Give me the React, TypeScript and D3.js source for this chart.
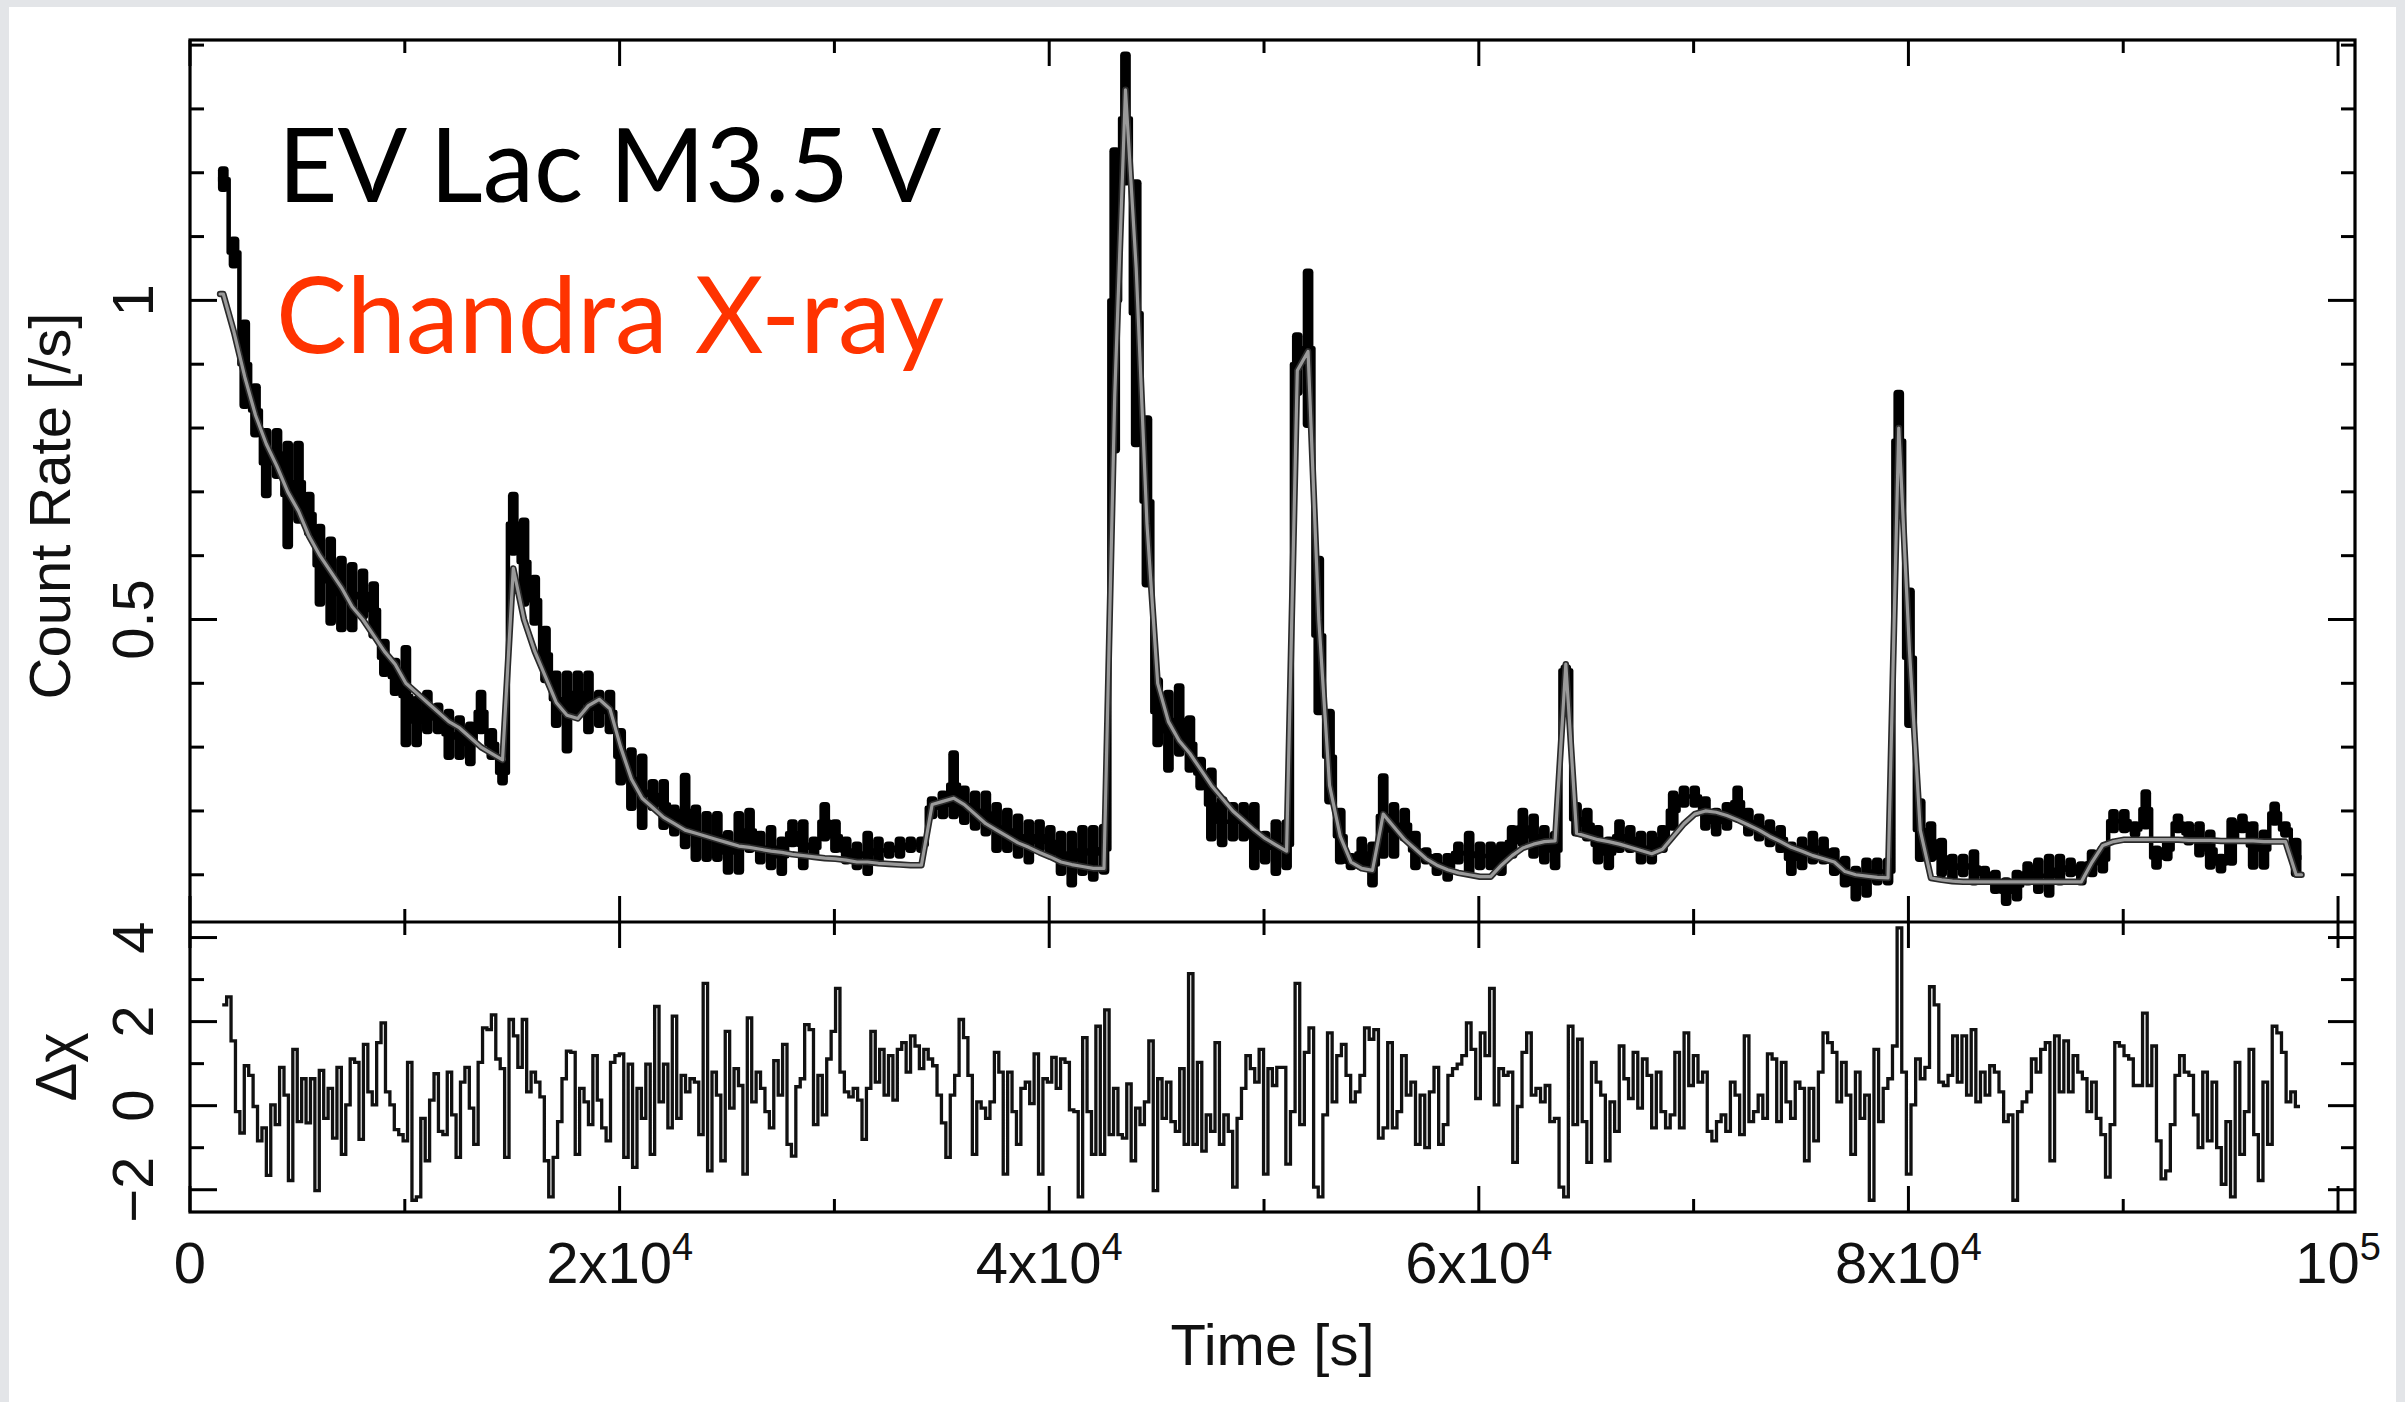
import React from "react";
import * as d3 from "d3";

const W = 2405;
const H = 1402;

// ---------- data ----------
const TIME_START = 1300; // s, start of first light-curve bin
const BIN = 500; // s

const DATA_LOW = [
  1.17, 1.05, 0.83, 0.785, 0.69, 0.72, 0.61, 0.65, 0.63, 0.52,
  0.49, 0.48, 0.48, 0.5, 0.47, 0.41, 0.38, 0.3, 0.3, 0.32,
  0.32, 0.28, 0.28, 0.27, 0.32, 0.28, 0.24, 0.6, 0.52, 0.49,
  0.4, 0.33, 0.29, 0.35, 0.32, 0.33, 0.32, 0.24, 0.2, 0.17,
  0.2, 0.17, 0.16, 0.14, 0.12, 0.12, 0.12, 0.1, 0.1, 0.134,
  0.116, 0.107, 0.098, 0.143, 0.107, 0.125, 0.152, 0.134, 0.116, 0.107,
  0.098, 0.116, 0.125, 0.125, 0.134, 0.134, 0.187, 0.187, 0.187, 0.178,
  0.169, 0.16, 0.134, 0.134, 0.125, 0.116, 0.134, 0.125, 0.098, 0.08,
  0.098, 0.089, 0.1, 0.76, 1.18, 0.77, 0.55, 0.3, 0.26, 0.285,
  0.26, 0.232, 0.152, 0.143, 0.152, 0.152, 0.107, 0.116, 0.098, 0.107,
  0.85, 0.8, 0.35, 0.21, 0.116, 0.107, 0.107, 0.08, 0.125, 0.125,
  0.152, 0.107, 0.116, 0.098, 0.089, 0.116, 0.098, 0.107, 0.107, 0.098,
  0.125, 0.143, 0.125, 0.116, 0.107, 0.41, 0.16, 0.152, 0.116, 0.107,
  0.134, 0.134, 0.116, 0.116, 0.134, 0.169, 0.205, 0.205, 0.169, 0.16,
  0.169, 0.187, 0.16, 0.152, 0.143, 0.134, 0.098, 0.107, 0.116, 0.116,
  0.098, 0.08, 0.058, 0.064, 0.083, 0.083, 0.7, 0.33, 0.12, 0.12,
  0.096, 0.089, 0.096, 0.083, 0.089, 0.07, 0.051, 0.058, 0.083, 0.07,
  0.064, 0.083, 0.096, 0.083, 0.096, 0.102, 0.165, 0.165, 0.158, 0.171,
  0.108, 0.121, 0.165, 0.146, 0.127, 0.108, 0.102, 0.114, 0.165, 0.108,
  0.108, 0.177, 0.158, 0.096,
];

const DATA_HIGH = [
  1.21, 1.1, 0.97, 0.87, 0.8, 0.8, 0.78, 0.78, 0.7, 0.65,
  0.63, 0.6, 0.59, 0.58, 0.56, 0.47, 0.44, 0.46, 0.38, 0.39,
  0.37, 0.36, 0.35, 0.34, 0.39, 0.33, 0.28, 0.7, 0.66, 0.57,
  0.49, 0.42, 0.42, 0.42, 0.42, 0.39, 0.39, 0.33, 0.3, 0.29,
  0.25, 0.25, 0.21, 0.26, 0.21, 0.2, 0.2, 0.17, 0.2, 0.205,
  0.169, 0.178, 0.16, 0.187, 0.187, 0.16, 0.214, 0.187, 0.16, 0.152,
  0.169, 0.16, 0.152, 0.16, 0.16, 0.16, 0.223, 0.232, 0.295, 0.24,
  0.232, 0.232, 0.214, 0.205, 0.196, 0.187, 0.187, 0.178, 0.169, 0.169,
  0.178, 0.178, 0.18, 1.24, 1.39, 1.19, 0.82, 0.41, 0.39, 0.4,
  0.35, 0.285, 0.268, 0.223, 0.214, 0.214, 0.214, 0.169, 0.187, 0.187,
  0.95, 1.05, 0.6, 0.36, 0.205, 0.134, 0.16, 0.152, 0.259, 0.214,
  0.205, 0.169, 0.143, 0.134, 0.134, 0.152, 0.169, 0.152, 0.152, 0.152,
  0.178, 0.205, 0.196, 0.178, 0.169, 0.43, 0.214, 0.205, 0.178, 0.16,
  0.187, 0.178, 0.169, 0.169, 0.178, 0.232, 0.24, 0.24, 0.223, 0.205,
  0.214, 0.24, 0.205, 0.196, 0.187, 0.178, 0.152, 0.16, 0.169, 0.16,
  0.143, 0.13, 0.114, 0.127, 0.127, 0.127, 0.86, 0.55, 0.22, 0.184,
  0.158, 0.133, 0.133, 0.14, 0.114, 0.108, 0.096, 0.108, 0.121, 0.127,
  0.133, 0.133, 0.127, 0.121, 0.14, 0.146, 0.203, 0.203, 0.184, 0.234,
  0.146, 0.158, 0.196, 0.184, 0.184, 0.171, 0.133, 0.19, 0.196, 0.184,
  0.171, 0.215, 0.184, 0.158,
];

const MODEL = [
  1.01, 0.95, 0.88, 0.82, 0.775, 0.74, 0.7, 0.67, 0.63, 0.6,
  0.575, 0.55, 0.52, 0.5, 0.475, 0.45, 0.43, 0.4, 0.385, 0.37,
  0.355, 0.34, 0.33, 0.315, 0.3, 0.29, 0.28, 0.58, 0.5, 0.45,
  0.41, 0.37, 0.35, 0.345, 0.365, 0.375, 0.36, 0.3, 0.25, 0.22,
  0.205, 0.19, 0.18, 0.17, 0.165, 0.16, 0.155, 0.15, 0.145, 0.143,
  0.14, 0.137, 0.135, 0.132, 0.13, 0.128, 0.126, 0.125, 0.123, 0.12,
  0.12, 0.118, 0.117, 0.116, 0.115, 0.115, 0.21, 0.215, 0.22, 0.21,
  0.195, 0.18, 0.17, 0.16, 0.15, 0.143, 0.135, 0.128, 0.12, 0.116,
  0.113, 0.11, 0.11, 0.85, 1.33, 1.05, 0.65, 0.4, 0.34, 0.31,
  0.29, 0.265, 0.24, 0.22, 0.2, 0.185, 0.17, 0.157, 0.147, 0.137,
  0.89, 0.92, 0.5, 0.24, 0.16, 0.12, 0.11, 0.107, 0.195, 0.175,
  0.155, 0.14, 0.125, 0.115, 0.108, 0.103, 0.1, 0.097, 0.097, 0.115,
  0.13, 0.142, 0.148, 0.152, 0.153, 0.43, 0.165, 0.16, 0.155, 0.152,
  0.148, 0.143, 0.138, 0.133, 0.14, 0.16, 0.18, 0.195, 0.2, 0.198,
  0.193, 0.186, 0.178, 0.17, 0.16, 0.152, 0.143, 0.137, 0.13, 0.125,
  0.12, 0.105, 0.1, 0.098, 0.096, 0.095, 0.8, 0.45, 0.17, 0.095,
  0.092, 0.09, 0.089, 0.089, 0.089, 0.089, 0.089, 0.089, 0.089, 0.089,
  0.089, 0.089, 0.089, 0.089, 0.12, 0.146, 0.152, 0.155, 0.155, 0.155,
  0.155, 0.155, 0.155, 0.154, 0.154, 0.154, 0.153, 0.153, 0.153, 0.153,
  0.152, 0.152, 0.152, 0.1,
];

// residuals (Δχ), two stretches of equal-width bins
const RES_A_SPAN = [1500, 50800];
const RES_A = [
  2.4, 2.59, 1.54, -0.14, -0.65, 0.95, 0.72, -0.02, -0.84, -0.53,
  -1.66, 0.02, -0.45, 0.91, 0.25, -1.78, 1.34, -0.38, 0.64, -0.41,
  0.64, -2.02, 0.84, -0.3, 0.41, -0.77, 0.91, -1.16, 0.02, 1.11,
  1.03, -0.8, 1.46, 0.33, 0.02, 1.5, 1.97, 0.33, 0.02, -0.57,
  -0.69, -0.84, 1.03, -2.25, -2.17, -0.3, -1.31, 0.13, 0.76, -0.61,
  -0.69, 0.8, -0.22, -1.23, 0.56, 0.91, -0.06, -0.92, 1.03, 1.85,
  1.81, 2.16, 1.11, 0.88, -1.23, 2.05, 1.66, 0.91, 2.05, 0.33,
  0.8, 0.56, 0.21, -1.31, -2.17, -1.23, -0.38, 0.64, 1.3, 1.27,
  -1.16, 0.41, 0.09, -0.45, 1.19, 0.13, -0.53, -0.84, 1.03, 1.19,
  1.23, -1.23, 0.99, -1.47, 0.41, -0.3, 0.99, -1.16, 2.36, 0.09,
  0.99, -0.53, 2.13, -0.3, 0.72, 0.33, 0.64, 0.56, -0.69, 2.91,
  -1.55, 0.8, 0.25, -1.31, 1.77, -0.06, 0.88, 0.48, -1.63, 2.09,
  0.09, 0.8, 0.41, -0.14, -0.53, 1.07, 0.25, 1.46, -0.92, -1.2,
  0.45, 0.64, 1.93, 1.81, -0.45, 0.72, -0.22, 1.11, 1.77, 2.79,
  0.8, 0.33, 0.21, 0.41, 0.13, -0.8, 0.41, 1.77, 0.56, 1.34,
  0.25, 1.19, 0.13, 1.34, 1.5, 0.8, 1.66, 1.42, 0.88, 1.34,
  1.11, 0.95, 0.25, -0.41, -1.23, 0.25, 0.72, 2.05, 1.62, 0.72,
  -1.16, 0.09, -0.06, -0.3, 0.09, 1.27, 0.8, -1.63, 0.8, -0.14,
  -0.92, 0.41, 0.56, 0.05, 1.23, -1.63, 0.64, 0.56, 1.15, 0.41,
  1.11, 1.03, -0.1, -0.14, -2.17, 1.62, -0.14, -1.16, 1.89, -1.16,
  2.28, -0.69, 0.41, -0.69, -0.77, 0.52, -1.31, -0.06, -0.45, 0.09,
  1.54, -2.02, 0.64, -0.3, 0.56, -0.38, -0.61, 0.88, -0.92, 3.14,
  -0.92, 1.03, -1.08, -0.22, -0.61, 1.5, -0.92, -0.22, -0.61, -1.94,
  -0.3, 0.41, 1.19, 0.88, 0.56, 1.34, -1.63, 0.88, 0.48, 0.91,
];
const RES_B_SPAN = [50800, 98230];
const RES_B = [
  0.91, -1.39, -0.14, 2.91, -0.45, 1.27, 1.85, -1.94, -2.17, -0.22,
  1.73, 0.09, 1.19, 1.46, 0.72, 0.09, 0.33, 0.72, 1.85, 1.58,
  1.81, -0.77, -0.53, 1.5, -0.53, -0.14, 1.19, 0.25, 0.56, -0.92,
  0.25, -1.0, 0.33, 0.91, -0.92, -0.45, 0.72, 0.88, 0.99, 1.19,
  1.97, 1.34, 0.17, 1.73, 1.19, 2.79, 0.02, 0.88, 0.72, 0.8,
  -1.35, -0.02, 1.27, 1.73, 0.25, 0.41, 0.09, 0.48, -0.38, -0.3,
  -1.94, -2.17, 1.89, -0.45, 1.58, -0.38, -1.35, 1.03, 0.56, 0.25,
  -1.31, 0.09, -0.61, 1.42, 0.64, 0.17, 1.27, -0.06, 1.11, 0.72,
  -0.53, 0.8, -0.14, -0.53, -0.22, 1.27, -0.53, 1.73, 0.48, 1.19,
  0.56, 0.8, -0.61, -0.84, -0.38, -0.22, -0.61, 0.56, 0.25, -0.69,
  1.66, -0.38, -0.14, 0.25, -0.3, 1.23, 1.11, -0.38, 1.03, 0.09,
  -0.3, 0.56, 0.41, -1.31, 0.41, -0.84, 0.8, 1.73, 1.5, 1.27,
  0.09, 1.03, 0.25, -1.16, 0.8, -0.3, 0.25, -2.25, 1.34, -0.38,
  0.41, 0.64, 1.42, 4.23, 0.8, -1.63, 0.02, 1.11, 0.64, 0.91,
  2.83, 2.4, 0.56, 0.48, 0.72, 1.66, 0.56, 1.66, 0.25, 1.81,
  0.09, 0.8, 0.25, 0.95, 0.8, 0.33, -0.38, -0.22, -2.25, -0.14,
  0.09, 0.33, 1.11, 0.8, 1.34, 1.5, -1.31, 1.66, 0.33, 1.54,
  0.33, 1.19, 0.8, 0.64, -0.14, 0.56, -0.3, -0.69, -1.7, -0.45,
  1.5, 1.42, 1.19, 1.11, 0.48, 0.48, 2.2, 0.48, 1.42, -0.84,
  -1.74, -1.55, -0.45, 0.72, 1.19, 0.8, 0.72, -0.22, -1.0, 0.8,
  -0.84, 0.56, -1.0, -1.87, -0.38, -2.17, 1.03, -1.16, -0.14, 1.34,
  -0.69, -1.78, 0.56, -0.92, 1.89, 1.73, 1.27, 0.09, 0.33, -0.02,
];

// axes / ticks
const X_MAJOR = [0, 20000, 40000, 60000, 80000, 100000];
const X_MINOR = [10000, 30000, 50000, 70000, 90000];
const X_LABELS = [
  { base: "0", exp: "" },
  { base: "2x10", exp: "4" },
  { base: "4x10", exp: "4" },
  { base: "6x10", exp: "4" },
  { base: "8x10", exp: "4" },
  { base: "10", exp: "5" },
];
const YU_MAJOR = [0.5, 1];
const YU_LABELS = ["0.5", "1"];
const YU_MINOR = [0.1, 0.2, 0.3, 0.4, 0.6, 0.7, 0.8, 0.9, 1.1, 1.2, 1.3, 1.4];
const YL_MAJOR = [-2, 0, 2, 4];
const YL_LABELS = ["\u22122", "0", "2", "4"];
const YL_MINOR = [-1, 1, 3];

// ---------- layout ----------
const L = 190;
const R = 2355;
const TOP = 40;
const MID = 922;
const BOT = 1212;
const FONT = "'Liberation Sans', Arial, Helvetica, sans-serif";

export default function App() {
  const x = d3.scaleLinear().domain([0, 100790]).range([L, R]);
  const yU = d3.scaleLinear().domain([0.026, 1.408]).range([MID, TOP]);
  const yL = d3.scaleLinear().domain([-2.53, 4.37]).range([BOT, MID]);

  const bins = DATA_LOW.map((lo, i) => ({
    t0: TIME_START + i * BIN,
    t1: TIME_START + (i + 1) * BIN,
    lo,
    hi: DATA_HIGH[i],
    mid: (lo + DATA_HIGH[i]) / 2,
    m: MODEL[i],
  }));

  const stepLine = d3
    .line<[number, number]>()
    .x((d) => d[0])
    .y((d) => d[1])
    .curve(d3.curveStepAfter);
  const linLine = d3
    .line<[number, number]>()
    .x((d) => d[0])
    .y((d) => d[1]);

  const dataPts: [number, number][] = bins.map((b) => [x(b.t0), yU(b.mid)]);
  dataPts.push([x(bins[bins.length - 1].t1), yU(bins[bins.length - 1].mid)]);

  const modelPts: [number, number][] = [[x(bins[0].t0 + 100), yU(bins[0].m)]];
  bins.forEach((b) => modelPts.push([x((b.t0 + b.t1) / 2), yU(b.m)]));
  modelPts.push([x(bins[bins.length - 1].t1), yU(bins[bins.length - 1].m)]);

  const wA = (RES_A_SPAN[1] - RES_A_SPAN[0]) / RES_A.length;
  const wB = (RES_B_SPAN[1] - RES_B_SPAN[0]) / RES_B.length;
  const resA = RES_A.map((v, i) => [x(RES_A_SPAN[0] + i * wA), yL(v)] as [number, number]);
  const resB = RES_B.map((v, i) => [x(RES_B_SPAN[0] + i * wB), yL(v)] as [number, number]);
  const resAll = [...resA, ...resB, [x(RES_B_SPAN[1]), yL(RES_B[RES_B.length - 1])] as [number, number]];

  const tickX = (v: number, major: boolean) => {
    const len = major ? 26 : 13;
    const xx = x(v);
    return (
      <g key={"tx" + v}>
        <line x1={xx} x2={xx} y1={TOP} y2={TOP + len} />
        <line x1={xx} x2={xx} y1={MID} y2={MID - len} />
        <line x1={xx} x2={xx} y1={MID} y2={MID + len} />
        <line x1={xx} x2={xx} y1={BOT} y2={BOT - len} />
      </g>
    );
  };
  const tickY = (yy: number, major: boolean, k: string) => {
    const len = major ? 27 : 14;
    return (
      <g key={k}>
        <line x1={L} x2={L + len} y1={yy} y2={yy} />
        <line x1={R} x2={R - len} y1={yy} y2={yy} />
      </g>
    );
  };

  return (
    <svg
      width={W}
      height={H}
      style={{ position: "absolute", left: 0, top: 0, display: "block" }}
      xmlns="http://www.w3.org/2000/svg"
    >
      <defs>
        <clipPath id="clipU">
          <rect x={L} y={TOP} width={R - L} height={MID - TOP} />
        </clipPath>
        <clipPath id="clipL">
          <rect x={L} y={MID} width={R - L} height={BOT - MID} />
        </clipPath>
      </defs>
      <rect x={0} y={0} width={W} height={H} fill="#e3e5e8" />
      <rect x={9} y={7} width={2387} height={H - 7} fill="#ffffff" />

      {/* upper panel: data */}
      <g clipPath="url(#clipU)">
        {bins.map((b, i) => {
          const y1 = yU(b.hi);
          const y2 = yU(b.lo);
          const h = Math.max(y2 - y1, 9);
          const yc = (y1 + y2) / 2;
          return (
            <rect
              key={"d" + i}
              x={x(b.t0)}
              y={yc - h / 2}
              width={x(b.t1) - x(b.t0)}
              height={h}
              rx={4}
              fill="#000"
            />
          );
        })}
        <path d={stepLine(dataPts) as string} fill="none" stroke="#000" strokeWidth={4.5} strokeLinejoin="round" />
        <path d={linLine(modelPts) as string} fill="none" stroke="#2a2a2a" strokeWidth={6.5} strokeLinejoin="round" strokeLinecap="round" />
        <path d={linLine(modelPts) as string} fill="none" stroke="#9a9a9a" strokeWidth={3.2} strokeLinejoin="round" strokeLinecap="round" />
      </g>

      {/* lower panel: residuals */}
      <g clipPath="url(#clipL)">
        <path d={stepLine(resAll) as string} fill="none" stroke="#111" strokeWidth={3.3} />
      </g>

      {/* frames and ticks */}
      <g stroke="#000" strokeWidth={3.2} fill="none">
        <rect x={L} y={TOP} width={R - L} height={BOT - TOP} />
        <line x1={L} x2={R} y1={MID} y2={MID} />
      </g>
      <g stroke="#000" strokeWidth={3}>
        {X_MAJOR.map((v) => tickX(v, true))}
        {X_MINOR.map((v) => tickX(v, false))}
        {YU_MAJOR.map((v) => tickY(yU(v), true, "yum" + v))}
        {YU_MINOR.map((v) => tickY(yU(v), false, "yun" + v))}
        {YL_MAJOR.map((v) => tickY(yL(v), true, "ylm" + v))}
        {YL_MINOR.map((v) => tickY(yL(v), false, "yln" + v))}
      </g>

      {/* tick labels */}
      <g fontFamily={FONT} fill="#111" fontSize={58}>
        {X_MAJOR.map((v, i) => (
          <text key={"xl" + v} x={x(v)} y={1283} textAnchor="middle">
            <tspan>{X_LABELS[i].base}</tspan>
            {X_LABELS[i].exp ? (
              <tspan fontSize={38} dy={-23}>
                {X_LABELS[i].exp}
              </tspan>
            ) : null}
          </text>
        ))}
        {YU_MAJOR.map((v, i) => (
          <text key={"yul" + v} transform={`translate(153,${yU(v)}) rotate(-90)`} textAnchor="middle">
            {YU_LABELS[i]}
          </text>
        ))}
        {YL_MAJOR.map((v, i) => (
          <text key={"yll" + v} transform={`translate(153,${yL(v)}) rotate(-90)`} textAnchor="middle">
            {YL_LABELS[i]}
          </text>
        ))}
        <text transform={`translate(70,${(TOP + MID) / 2 + 25}) rotate(-90)`} textAnchor="middle">
          Count Rate [/s]
        </text>
        <text transform={`translate(76,${(MID + BOT) / 2}) rotate(-90)`} textAnchor="middle">
          Δχ
        </text>
        <text x={(L + R) / 2} y={1365} textAnchor="middle" fontSize={58}>
          Time [s]
        </text>
      </g>

      {/* annotations */}
      <text x={278} y={202} fontFamily="Lato, 'Open Sans', sans-serif" fontWeight={400} fontSize={103} fill="#000">
        EV Lac M3.5 V
      </text>
      <text x={276} y={353} fontFamily="Lato, 'Open Sans', sans-serif" fontWeight={400} fontSize={106} fill="#ff3300">
        Chandra X-ray
      </text>
    </svg>
  );
}
